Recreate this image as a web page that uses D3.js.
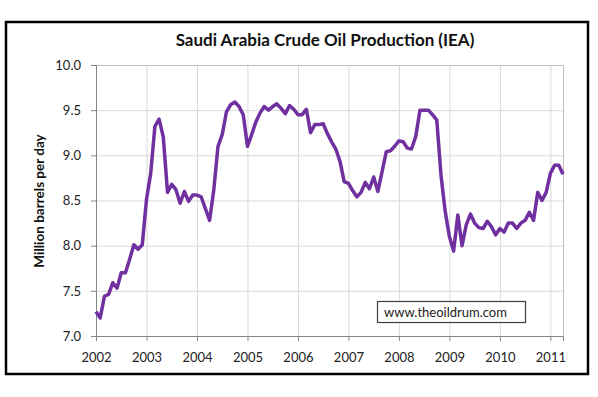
<!DOCTYPE html>
<html>
  <head>
    <meta charset="utf-8">
    <title>Saudi Arabia Crude Oil Production</title>
  </head>
  <style>
  body { margin: 0; background: #fff; font-family: "Lato", "Open Sans", sans-serif; }
  .grid .domain { display: none }
  .grid .tick line { stroke: #d9d9d9 }
  .axis text { fill: #222; font-size: 13px; }
  .axis .domain, .axis .tick line { stroke: #868686 }
  </style>
  <script src="https://d3js.org/d3.v7.min.js"></script>
  <body>
    <script>
    // monthly output, Jan 2002 .. Apr 2011, million barrels per day
    const startYear = 2002
    const y2002 = [7.27, 7.20, 7.44, 7.46, 7.59, 7.53, 7.70, 7.70, 7.85, 8.01, 7.96, 8.01]
    const y2003 = [8.51, 8.80, 9.32, 9.40, 9.20, 8.59, 8.68, 8.62, 8.47, 8.60, 8.49, 8.56]
    const y2004 = [8.56, 8.54, 8.41, 8.28, 8.62, 9.10, 9.23, 9.48, 9.56, 9.59, 9.54, 9.45]
    const y2005 = [9.10, 9.23, 9.37, 9.47, 9.54, 9.50, 9.54, 9.57, 9.52, 9.46, 9.55, 9.51]
    const y2006 = [9.45, 9.45, 9.51, 9.25, 9.34, 9.34, 9.35, 9.24, 9.15, 9.07, 8.93, 8.71]
    const y2007 = [8.69, 8.61, 8.54, 8.59, 8.70, 8.63, 8.76, 8.60, 8.82, 9.04, 9.05, 9.10]
    const y2008 = [9.16, 9.15, 9.08, 9.07, 9.21, 9.50, 9.50, 9.50, 9.45, 9.39, 8.78, 8.38]
    const y2009 = [8.10, 7.94, 8.34, 8.00, 8.23, 8.35, 8.25, 8.20, 8.19, 8.27, 8.21, 8.12]
    const y2010 = [8.19, 8.15, 8.25, 8.25, 8.19, 8.25, 8.28, 8.37, 8.28, 8.59, 8.50, 8.59]
    const y2011 = [8.80, 8.89, 8.89, 8.79]

    const yearTicks = [2002, 2003, 2004, 2005, 2006, 2007, 2008, 2009, 2010, 2011]
    const valueTicks = [7.0, 7.5, 8.0, 8.5, 9.0, 9.5, 10.0]

    const values = [].concat(y2002, y2003, y2004, y2005, y2006, y2007, y2008, y2009, y2010, y2011)
    const data = values.map(function(v, i){ return { t: startYear + i / 12, v: v } })

    var W = 598, H = 397
    var margin = { left: 96, top: 65, right: 35, bottom: 61 }
    var width = W - margin.left - margin.right
    var height = H - margin.top - margin.bottom

    var svg = d3.select("body").append("svg")
                .attr("width", W).attr("height", H)

    // outer frame
    svg.append("rect")
       .attr("x", 6).attr("y", 22).attr("width", 582).attr("height", 352)
       .attr("fill", "none").attr("stroke", "#000").attr("stroke-width", 2.5)

    svg.append("text")
       .attr("x", 325).attr("y", 46)
       .attr("text-anchor", "middle")
       .attr("font-size", "17px").attr("font-weight", "bold")
       .attr("fill", "#111")
       .text("Saudi Arabia Crude Oil Production (IEA)")

    var g = svg.append("g").attr("transform", "translate(" + margin.left + "," + margin.top + ")")

    var xScale = d3.scaleLinear()
                   .domain([startYear, d3.max(data, function(d){ return d.t })])
                   .range([0, width])
    var yScale = d3.scaleLinear().domain([7, 10]).range([height, 0])

    // gridlines
    g.append("g").attr("class", "grid")
     .attr("transform", "translate(0," + height + ")")
     .call(d3.axisBottom(xScale).tickValues(yearTicks).tickSize(-height).tickFormat(""))
    g.append("g").attr("class", "grid")
     .call(d3.axisLeft(yScale).tickValues(valueTicks).tickSize(-width).tickFormat(""))

    // plot border (top, right)
    g.append("path")
     .attr("d", "M0,0.5H" + (width + 0.5) + "V" + height)
     .attr("fill", "none").attr("stroke", "#bfbfbf")

    var xAxis = g.append("g").attr("class", "axis")
     .attr("transform", "translate(0," + height + ")")
     .call(d3.axisBottom(xScale).tickValues(yearTicks).tickFormat(d3.format("d")).tickSize(5).tickPadding(12))
    xAxis.selectAll(".tick text").attr("font-size", "13px")

    g.append("g").attr("class", "axis")
     .call(d3.axisLeft(yScale).tickValues(valueTicks).tickFormat(d3.format(".1f")).tickSize(5).tickPadding(10))

    g.selectAll(".axis").attr("font-family", null)

    // the series
    var line = d3.line()
                 .x(function(d){ return xScale(d.t) })
                 .y(function(d){ return yScale(d.v) })
    g.append("path")
     .datum(data)
     .attr("d", line)
     .attr("fill", "none")
     .attr("stroke", "#7030a0")
     .attr("stroke-width", 3.5)
     .attr("stroke-linejoin", "round")

    // y axis title
    svg.append("text")
       .attr("transform", "translate(44,201) rotate(-90)")
       .attr("text-anchor", "middle")
       .attr("font-size", "13.5px").attr("font-weight", "bold")
       .attr("fill", "#111")
       .text("Million barrels per day")

    // watermark box
    svg.append("rect")
       .attr("x", 377.5).attr("y", 301.5).attr("width", 148).attr("height", 21)
       .attr("fill", "#fff").attr("stroke", "#404040").attr("stroke-width", 1.2)
    svg.append("text")
       .attr("x", 384).attr("y", 317)
       .attr("font-size", "13px").attr("fill", "#222")
       .text("www.theoildrum.com")
    </script>
  </body>
</html>
